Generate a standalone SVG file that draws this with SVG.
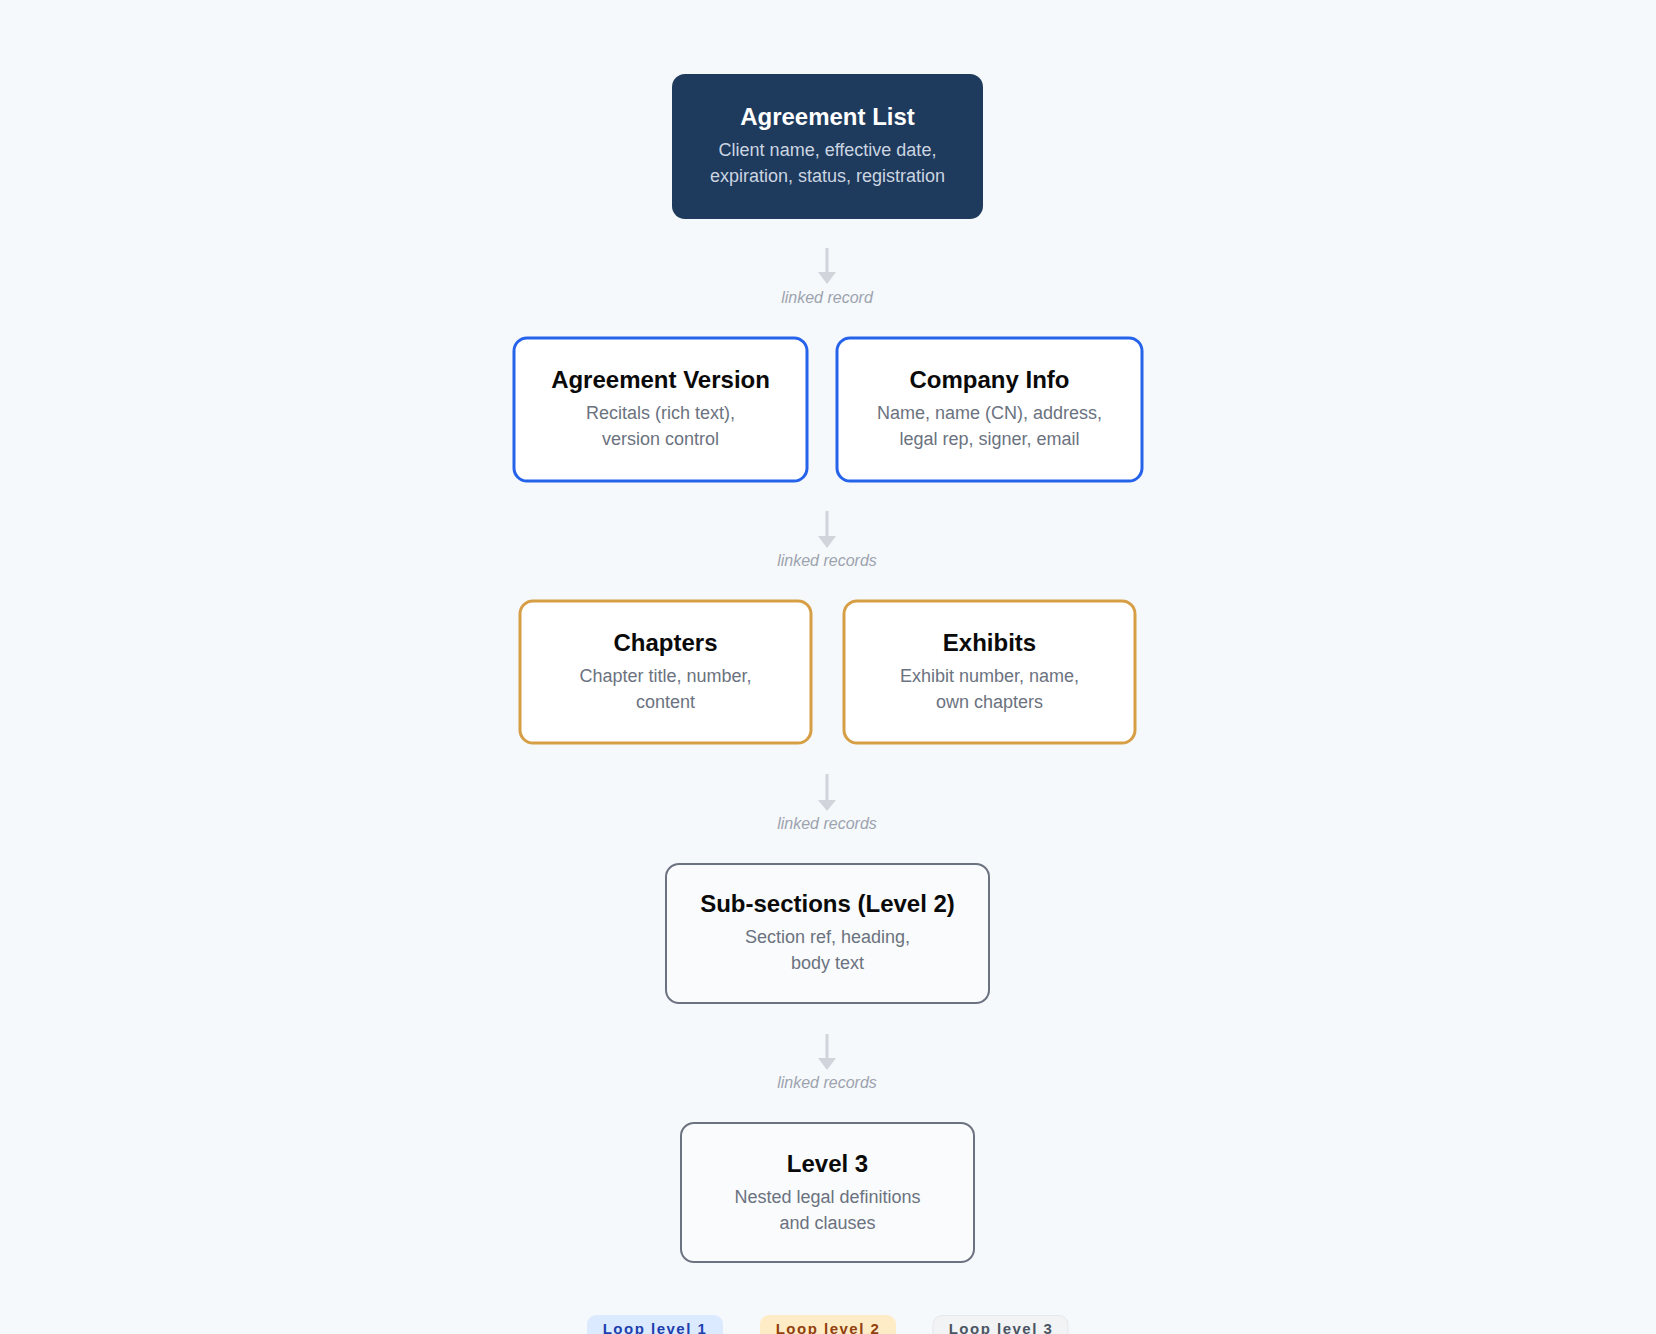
<svg xmlns="http://www.w3.org/2000/svg" width="1656" height="1334" viewBox="0 0 1656 1334">
<style>
text{font-family:"Liberation Sans",Arial,sans-serif;text-anchor:middle}
.t{font-size:24px;font-weight:bold;fill:#0a0a0a}
.s{font-size:18px;fill:#6b7280}
.lbl{font-size:16px;font-style:italic;fill:#9ca3af}
.blue{fill:#ffffff;stroke:#2563eb;stroke-width:3}
.gold{fill:#ffffff;stroke:#d69e45;stroke-width:3}
.gray{fill:#f9fbfc;stroke:#6b7280;stroke-width:2}
.cl{stroke:#d1d5db;stroke-width:3}
.ch{fill:#d1d5db}
.pill{font-size:15px;font-weight:bold;letter-spacing:1.5px}
</style>
<rect width="1656" height="1334" fill="#f6f9fb"/>
<g id="connectors">
<line class="cl" x1="827" y1="248" x2="827" y2="273"/><polygon class="ch" points="818,272 836,272 827,284"/>
<text class="lbl" x="827" y="303">linked record</text>
<line class="cl" x1="827" y1="511" x2="827" y2="537"/><polygon class="ch" points="818,536 836,536 827,548"/>
<text class="lbl" x="827" y="566">linked records</text>
<line class="cl" x1="827" y1="774" x2="827" y2="801"/><polygon class="ch" points="818,800 836,800 827,811"/>
<text class="lbl" x="827" y="829">linked records</text>
<line class="cl" x1="827" y1="1034" x2="827" y2="1059"/><polygon class="ch" points="818,1058 836,1058 827,1070"/>
<text class="lbl" x="827" y="1088">linked records</text>
</g>
<g id="agreement-list">
<rect x="672" y="74" width="311" height="145" rx="13" fill="#1e3a5c"/>
<text class="t" x="827.5" y="125" style="fill:#ffffff">Agreement List</text>
<text class="s" x="827.5" y="156" style="fill:#cbd5e1">Client name, effective date,</text>
<text class="s" x="827.5" y="182" style="fill:#cbd5e1">expiration, status, registration</text>
</g>
<g id="agreement-version">
<rect class="blue" x="514" y="338" width="293" height="143" rx="13"/>
<text class="t" x="660.5" y="388">Agreement Version</text>
<text class="s" x="660.5" y="419">Recitals (rich text),</text>
<text class="s" x="660.5" y="445">version control</text>
</g>
<g id="company-info">
<rect class="blue" x="837" y="338" width="305" height="143" rx="13"/>
<text class="t" x="989.5" y="388">Company Info</text>
<text class="s" x="989.5" y="419">Name, name (CN), address,</text>
<text class="s" x="989.5" y="445">legal rep, signer, email</text>
</g>
<g id="chapters">
<rect class="gold" x="520" y="601" width="291" height="142" rx="13"/>
<text class="t" x="665.5" y="651">Chapters</text>
<text class="s" x="665.5" y="682">Chapter title, number,</text>
<text class="s" x="665.5" y="708">content</text>
</g>
<g id="exhibits">
<rect class="gold" x="844" y="601" width="291" height="142" rx="13"/>
<text class="t" x="989.5" y="651">Exhibits</text>
<text class="s" x="989.5" y="682">Exhibit number, name,</text>
<text class="s" x="989.5" y="708">own chapters</text>
</g>
<g id="sub-sections">
<rect class="gray" x="666" y="864" width="323" height="139" rx="13"/>
<text class="t" x="827.5" y="912">Sub-sections (Level 2)</text>
<text class="s" x="827.5" y="943">Section ref, heading,</text>
<text class="s" x="827.5" y="969">body text</text>
</g>
<g id="level-3">
<rect class="gray" x="681" y="1123" width="293" height="139" rx="13"/>
<text class="t" x="827.5" y="1172">Level 3</text>
<text class="s" x="827.5" y="1203">Nested legal definitions</text>
<text class="s" x="827.5" y="1229">and clauses</text>
</g>
<g id="legend">
<rect x="587" y="1315" width="136" height="34" rx="9" fill="#dbeafe"/>
<text class="pill" x="655" y="1334" fill="#1e40af">Loop level 1</text>
<rect x="760" y="1315" width="136" height="34" rx="9" fill="#fdecc6"/>
<text class="pill" x="828" y="1334" fill="#92400e">Loop level 2</text>
<rect x="933" y="1315.5" width="135" height="34" rx="9" fill="#f1f3f5" stroke="#e5e7eb" stroke-width="1"/>
<text class="pill" x="1001" y="1334" fill="#4b5563">Loop level 3</text>
</g>
</svg>
